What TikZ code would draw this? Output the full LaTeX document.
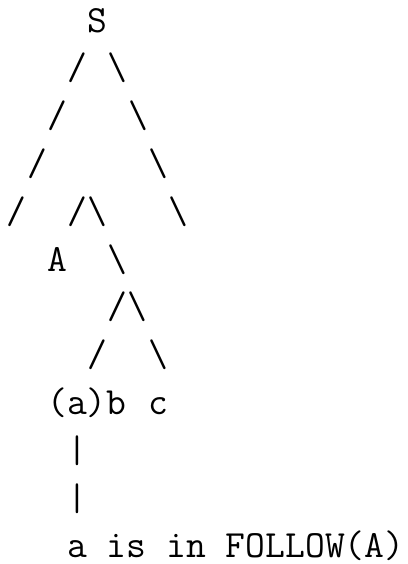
\documentclass[tikz,border=0pt]{standalone}
\begin{document}
\begin{tikzpicture}[
  tt/.style={font=\fontsize{19.24pt}{23.9pt}\selectfont\ttfamily, inner sep=0pt, outer sep=0pt, anchor=base west}
]
\useasboundingbox (0,0) rectangle (204pt,-282pt);
\newcommand\tok[4]{\node[tt] (#1) at ({3.4pt+10.1pt*#2},{-16pt-23.9pt*#3}) {#4};}
\tok{S}{4}{0}{S}
\tok{l1}{3}{1}{/}
\tok{r1}{5}{1}{\textbackslash}
\tok{l2}{2}{2}{/}
\tok{r2}{6}{2}{\textbackslash}
\tok{l3}{1}{3}{/}
\tok{r3}{7}{3}{\textbackslash}
\tok{l4}{0}{4}{/}
\tok{m4}{3}{4}{/\textbackslash}
\tok{r4}{8}{4}{\textbackslash}
\tok{A}{2}{5}{A}
\tok{r5}{5}{5}{\textbackslash}
\tok{m6}{5}{6}{/\textbackslash}
\tok{l7}{4}{7}{/}
\tok{r7}{7}{7}{\textbackslash}
\tok{ab}{2}{8}{(a)b}
\tok{c}{7}{8}{c}
\tok{v1}{3}{9}{|}
\tok{v2}{3}{10}{|}
\tok{follow}{3}{11}{a is in FOLLOW(A)}
\end{tikzpicture}
\end{document}
